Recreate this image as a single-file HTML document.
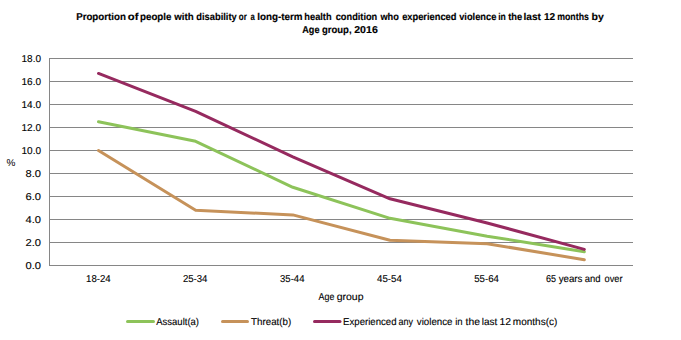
<!DOCTYPE html>
<html><head><meta charset="utf-8"><style>
html,body{margin:0;padding:0;background:#fff;width:681px;height:340px;overflow:hidden;}
svg{display:block;}
text{font-family:"Liberation Sans",sans-serif;fill:#000000;text-rendering:geometricPrecision;} text:not([font-weight]){stroke:#000;stroke-width:0.12px;} text[font-weight]{stroke:#000;stroke-width:0.15px;}
</style></head><body>
<svg width="681" height="340" viewBox="0 0 681 340">
<rect width="681" height="340" fill="#fff"/>
<line x1="49" y1="265.5" x2="633" y2="265.5" stroke="#868686" stroke-width="1"/>
<line x1="49" y1="242.5" x2="633" y2="242.5" stroke="#868686" stroke-width="1"/>
<line x1="49" y1="219.5" x2="633" y2="219.5" stroke="#868686" stroke-width="1"/>
<line x1="49" y1="196.5" x2="633" y2="196.5" stroke="#868686" stroke-width="1"/>
<line x1="49" y1="173.5" x2="633" y2="173.5" stroke="#868686" stroke-width="1"/>
<line x1="49" y1="150.5" x2="633" y2="150.5" stroke="#868686" stroke-width="1"/>
<line x1="49" y1="127.5" x2="633" y2="127.5" stroke="#868686" stroke-width="1"/>
<line x1="49" y1="104.5" x2="633" y2="104.5" stroke="#868686" stroke-width="1"/>
<line x1="49" y1="81.5" x2="633" y2="81.5" stroke="#868686" stroke-width="1"/>
<line x1="49" y1="58.5" x2="633" y2="58.5" stroke="#868686" stroke-width="1"/>
<line x1="49.5" y1="58" x2="49.5" y2="266" stroke="#868686" stroke-width="1"/>
<text x="41" y="268.5" font-size="10" text-anchor="end" textLength="15.5" lengthAdjust="spacingAndGlyphs">0.0</text>
<text x="41" y="245.5" font-size="10" text-anchor="end" textLength="15.5" lengthAdjust="spacingAndGlyphs">2.0</text>
<text x="41" y="222.5" font-size="10" text-anchor="end" textLength="15.5" lengthAdjust="spacingAndGlyphs">4.0</text>
<text x="41" y="199.5" font-size="10" text-anchor="end" textLength="15.5" lengthAdjust="spacingAndGlyphs">6.0</text>
<text x="41" y="176.5" font-size="10" text-anchor="end" textLength="15.5" lengthAdjust="spacingAndGlyphs">8.0</text>
<text x="41" y="153.5" font-size="10" text-anchor="end" textLength="19.5" lengthAdjust="spacingAndGlyphs">10.0</text>
<text x="41" y="130.5" font-size="10" text-anchor="end" textLength="19.5" lengthAdjust="spacingAndGlyphs">12.0</text>
<text x="41" y="107.5" font-size="10" text-anchor="end" textLength="19.5" lengthAdjust="spacingAndGlyphs">14.0</text>
<text x="41" y="84.5" font-size="10" text-anchor="end" textLength="19.5" lengthAdjust="spacingAndGlyphs">16.0</text>
<text x="41" y="61.5" font-size="10" text-anchor="end" textLength="19.5" lengthAdjust="spacingAndGlyphs">18.0</text>
<text x="86.07" y="282" font-size="10" textLength="24.62" lengthAdjust="spacingAndGlyphs">18-24</text>
<text x="182.92" y="282" font-size="10" textLength="24.56" lengthAdjust="spacingAndGlyphs">25-34</text>
<text x="280.04" y="282" font-size="10" textLength="24.44" lengthAdjust="spacingAndGlyphs">35-44</text>
<text x="377.08" y="282" font-size="10" textLength="24.81" lengthAdjust="spacingAndGlyphs">45-54</text>
<text x="474.21" y="282" font-size="10" textLength="24.67" lengthAdjust="spacingAndGlyphs">55-64</text>
<text x="546.04" y="282" font-size="10" textLength="10.04" lengthAdjust="spacingAndGlyphs">65</text>
<text x="558.68" y="282" font-size="10" textLength="23.78" lengthAdjust="spacingAndGlyphs">years</text>
<text x="584.7" y="282" font-size="10" textLength="15.81" lengthAdjust="spacingAndGlyphs">and</text>
<text x="604.51" y="282" font-size="10" textLength="18.04" lengthAdjust="spacingAndGlyphs">over</text>
<polyline points="98.48,150.50 195.65,210.30 292.82,214.90 389.98,240.20 487.15,243.65 584.32,259.75" fill="none" stroke="#c6925a" stroke-width="3" stroke-linejoin="round" stroke-linecap="round"/>
<polyline points="98.48,121.75 195.65,141.30 292.82,187.30 389.98,218.35 487.15,236.18 584.32,251.70" fill="none" stroke="#8dc35a" stroke-width="3" stroke-linejoin="round" stroke-linecap="round"/>
<polyline points="98.48,73.45 195.65,111.40 292.82,156.82 389.98,198.80 487.15,222.95 584.32,249.40" fill="none" stroke="#962a5f" stroke-width="3" stroke-linejoin="round" stroke-linecap="round"/>
<text x="76.15" y="20" font-size="10" textLength="49.76" lengthAdjust="spacingAndGlyphs" font-weight="bold">Proportion</text>
<text x="127.86" y="20" font-size="10" textLength="10.62" lengthAdjust="spacingAndGlyphs" font-weight="bold">of</text>
<text x="140.06" y="20" font-size="10" textLength="31.37" lengthAdjust="spacingAndGlyphs" font-weight="bold">people</text>
<text x="174.23" y="20" font-size="10" textLength="19.48" lengthAdjust="spacingAndGlyphs" font-weight="bold">with</text>
<text x="196.32" y="20" font-size="10" textLength="40.43" lengthAdjust="spacingAndGlyphs" font-weight="bold">disability</text>
<text x="238.79" y="20" font-size="10" textLength="7.93" lengthAdjust="spacingAndGlyphs" font-weight="bold">or</text>
<text x="250.47" y="20" font-size="10" textLength="4.28" lengthAdjust="spacingAndGlyphs" font-weight="bold">a</text>
<text x="257.21" y="20" font-size="10" textLength="45.4" lengthAdjust="spacingAndGlyphs" font-weight="bold">long-term</text>
<text x="304.35" y="20" font-size="10" textLength="27.22" lengthAdjust="spacingAndGlyphs" font-weight="bold">health</text>
<text x="335.74" y="20" font-size="10" textLength="41.53" lengthAdjust="spacingAndGlyphs" font-weight="bold">condition</text>
<text x="380.43" y="20" font-size="10" textLength="18.43" lengthAdjust="spacingAndGlyphs" font-weight="bold">who</text>
<text x="402.14" y="20" font-size="10" textLength="54.38" lengthAdjust="spacingAndGlyphs" font-weight="bold">experienced</text>
<text x="459.16" y="20" font-size="10" textLength="37.15" lengthAdjust="spacingAndGlyphs" font-weight="bold">violence</text>
<text x="498.2" y="20" font-size="10" textLength="7.63" lengthAdjust="spacingAndGlyphs" font-weight="bold">in</text>
<text x="508.19" y="20" font-size="10" textLength="13.93" lengthAdjust="spacingAndGlyphs" font-weight="bold">the</text>
<text x="523.49" y="20" font-size="10" textLength="17.53" lengthAdjust="spacingAndGlyphs" font-weight="bold">last</text>
<text x="543.96" y="20" font-size="10" textLength="11.24" lengthAdjust="spacingAndGlyphs" font-weight="bold">12</text>
<text x="557.22" y="20" font-size="10" textLength="31.64" lengthAdjust="spacingAndGlyphs" font-weight="bold">months</text>
<text x="591.51" y="20" font-size="10" textLength="12.25" lengthAdjust="spacingAndGlyphs" font-weight="bold">by</text>
<text x="302.27" y="33" font-size="10" textLength="17.24" lengthAdjust="spacingAndGlyphs" font-weight="bold">Age</text>
<text x="321.91" y="33" font-size="10" textLength="29.63" lengthAdjust="spacingAndGlyphs" font-weight="bold">group,</text>
<text x="354.23" y="33" font-size="10" textLength="23.55" lengthAdjust="spacingAndGlyphs" font-weight="bold">2016</text>
<text style="stroke:none" x="6.6" y="166" font-size="10">%</text>
<text x="318.58" y="300" font-size="10" textLength="15.81" lengthAdjust="spacingAndGlyphs">Age</text>
<text x="336.66" y="300" font-size="10" textLength="26.88" lengthAdjust="spacingAndGlyphs">group</text>
<line x1="127.5" y1="321.5" x2="153.5" y2="321.5" stroke="#8dc35a" stroke-width="3" stroke-linecap="round"/>
<line x1="222.5" y1="321.5" x2="247.5" y2="321.5" stroke="#c6925a" stroke-width="3" stroke-linecap="round"/>
<line x1="314.5" y1="321.5" x2="340" y2="321.5" stroke="#962a5f" stroke-width="3" stroke-linecap="round"/>
<text x="156.28" y="325" font-size="10" textLength="42.71" lengthAdjust="spacingAndGlyphs">Assault(a)</text>
<text x="251.08" y="325" font-size="10" textLength="40.12" lengthAdjust="spacingAndGlyphs">Threat(b)</text>
<text x="343.11" y="325" font-size="10" textLength="53.41" lengthAdjust="spacingAndGlyphs">Experienced</text>
<text x="398.62" y="325" font-size="10" textLength="14.5" lengthAdjust="spacingAndGlyphs">any</text>
<text x="416.77" y="325" font-size="10" textLength="35.77" lengthAdjust="spacingAndGlyphs">violence</text>
<text x="455.16" y="325" font-size="10" textLength="7.46" lengthAdjust="spacingAndGlyphs">in</text>
<text x="465.54" y="325" font-size="10" textLength="14.42" lengthAdjust="spacingAndGlyphs">the</text>
<text x="481.73" y="325" font-size="10" textLength="15.55" lengthAdjust="spacingAndGlyphs">last</text>
<text x="499.51" y="325" font-size="10" textLength="11.51" lengthAdjust="spacingAndGlyphs">12</text>
<text x="512.84" y="325" font-size="10" textLength="44.49" lengthAdjust="spacingAndGlyphs">months(c)</text>
</svg>
</body></html>
